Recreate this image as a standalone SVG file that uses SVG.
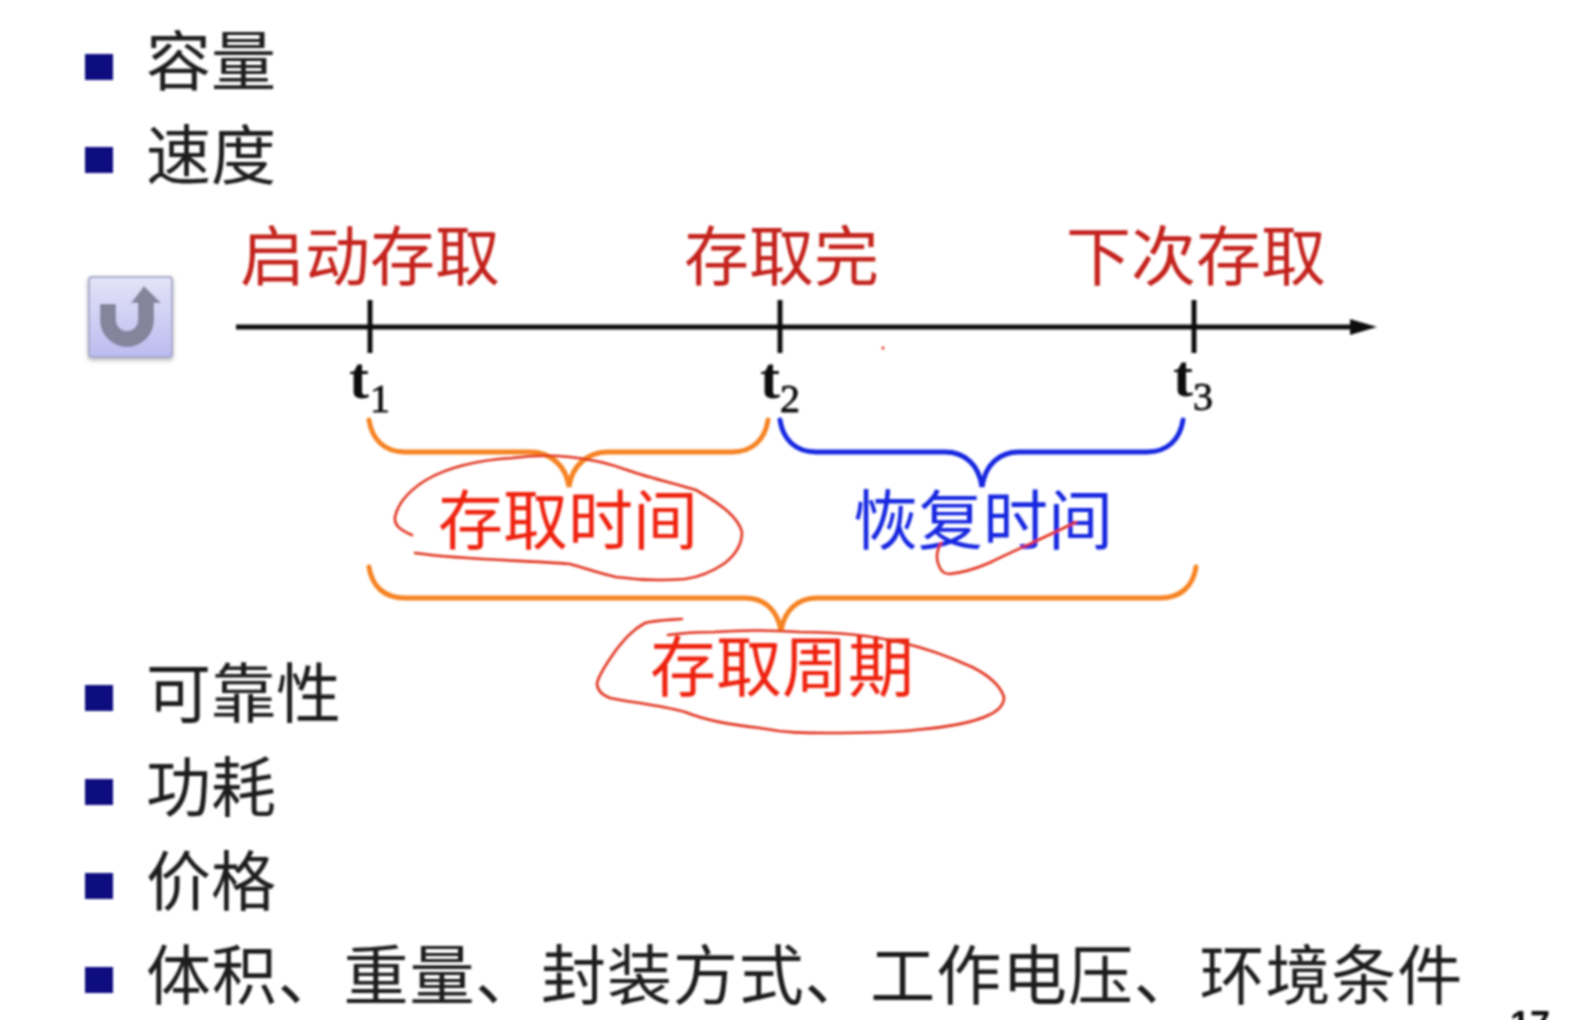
<svg xmlns="http://www.w3.org/2000/svg" width="1591" height="1020" viewBox="0 0 1591 1020">
<style>
.cjk{font-family:"Noto Sans CJK SC","Noto Sans",sans-serif;font-size:65px}
.li{fill:#1a1a1a;font-size:65px}
.red{fill:#c4201a}
.bright{fill:#ee2010}
.blue{fill:#1428e0}
.t{font-family:"Liberation Serif",serif;font-weight:bold;font-size:60px;fill:#111}
.s{font-family:"Liberation Serif",serif;font-size:40px;fill:#111;stroke:#111;stroke-width:.8}
.b{fill:#0a0f80}
.ax{stroke:#111;stroke-width:5;fill:none}
.br{fill:none;stroke-width:5;stroke-linecap:round}
.hand{fill:none;stroke:#e0301f;stroke-width:2.6;stroke-linecap:round;stroke-linejoin:round}
</style>
<defs>
<linearGradient id="btn" x1="0" y1="0" x2="0" y2="1"><stop offset="0" stop-color="#e4e4f8"/><stop offset="1" stop-color="#bcbcf0"/></linearGradient>
<filter id="soft" x="-2%" y="-2%" width="104%" height="104%"><feGaussianBlur stdDeviation="0.8"/></filter>
<filter id="sh" x="-20%" y="-20%" width="140%" height="140%"><feDropShadow dx="0" dy="2" stdDeviation="2" flood-color="#777" flood-opacity=".6"/></filter>
</defs>
<rect width="1591" height="1020" fill="#fff"/>
<g filter="url(#soft)">
<g id="list">
<g id="item-capacity"><rect class="b" x="85" y="54" width="28" height="26"/><text class="cjk li" x="146" y="85">容量</text></g>
<g id="item-speed"><rect class="b" x="85" y="147" width="28" height="26"/><text class="cjk li" x="146" y="179">速度</text></g>
<g id="item-reliability"><rect class="b" x="85" y="685" width="28" height="26"/><text class="cjk li" x="146" y="717">可靠性</text></g>
<g id="item-power"><rect class="b" x="85" y="779" width="28" height="26"/><text class="cjk li" x="146" y="811">功耗</text></g>
<g id="item-price"><rect class="b" x="85" y="873" width="28" height="26"/><text class="cjk li" x="146" y="905">价格</text></g>
<g id="item-other"><rect class="b" x="85" y="967" width="28" height="26"/><text class="cjk li" x="146" y="999" letter-spacing=".85">体积、重量、封装方式、工作电压、环境条件</text></g>
</g>
<g id="button">
<rect x="89" y="277" width="83" height="80" rx="3" fill="url(#btn)" stroke="#a8a8cc" stroke-width="2" filter="url(#sh)"/>
<path d="M108 304V320a19 19 0 0 0 38 0V300" fill="none" stroke="#84849c" stroke-width="16"/>
<path d="M131 303L144 286L161 303Z" fill="#84849c"/>
</g>
<g id="connectors">
<path class="ax" d="M236 327H1352"/>
<path d="M1350 319L1377 327L1350 335Z" fill="#111"/>
<path class="ax" d="M370 300V353M780 300V353M1194 300V353"/>
<path class="br" stroke="#f58220" d="M369 420C372 440 385 452 405 452H530C550 452 566 465 569 487C572 465 588 452 608 452H732C752 452 765 440 768 420"/>
<path class="br" stroke="#1428e0" d="M780 420C783 440 796 452 816 452H945C965 452 979 465 982 487C985 465 999 452 1019 452H1147C1167 452 1180 440 1183 420"/>
<path class="br" stroke="#f58220" d="M369 567C372 587 385 598 405 598H745C765 598 778 611 781 631C784 611 797 598 817 598H1160C1180 598 1193 587 1196 567"/>
</g>
<g id="label-start"><text class="cjk red" x="240" y="280">启动存取</text></g>
<g id="label-done"><text class="cjk red" x="684" y="280">存取完</text></g>
<g id="label-next"><text class="cjk red" x="1066" y="280">下次存取</text></g>
<g id="t1"><text class="t" x="349" y="398">t</text><text class="s" x="370" y="412">1</text></g>
<g id="t2"><text class="t" x="760" y="398">t</text><text class="s" x="780" y="412">2</text></g>
<g id="t3"><text class="t" x="1173" y="396">t</text><text class="s" x="1193" y="410">3</text></g>
<g id="access-time"><text class="cjk bright" x="438" y="544">存取时间</text></g>
<g id="recovery-time"><text class="cjk blue" x="853" y="544">恢复时间</text></g>
<g id="access-cycle"><text class="cjk bright" x="650" y="691" style="font-size:66px">存取周期</text></g>
<g id="annotations">
<path class="hand" d="M412 535C400 530 394 525 395 517C398 503 410 490 426 480C450 466 480 460 512 458C535 455 552 455 570 457C590 459 608 463 627 470C650 478 676 484 696 490C722 505 738 517 742 532C742 545 735 555 725 563C712 572 700 577 685 579C660 581 638 580 616 577C598 573 585 568 570 564C520 560 465 560 415 553"/>
<path class="hand" d="M941 543C937 550 936 557 938 563C940 571 944 574 949 574C962 573 975 569 989 563C1020 548 1050 535 1076 522"/>
<path class="hand" d="M682 619C668 620 655 620 645 623C632 630 624 640 616 650C608 662 600 672 597 683C597 690 602 695 610 698C635 703 660 705 685 712C710 722 735 725 760 728C785 733 805 733 828 733C860 733 890 733 915 730C945 728 975 722 989 715C1000 710 1004 703 1004 697C1000 685 988 675 972 667C950 657 925 648 903 643C870 635 835 632 800 632C770 630 740 630 714 632C698 632 682 633 668 635"/>
<circle cx="883" cy="348" r="1.5" fill="#e0301f"/>
</g>
<g id="page-number"><text x="1510" y="1037" font-family="Liberation Sans,sans-serif" font-weight="bold" font-size="36" fill="#111">17</text></g>
</g>
</svg>
